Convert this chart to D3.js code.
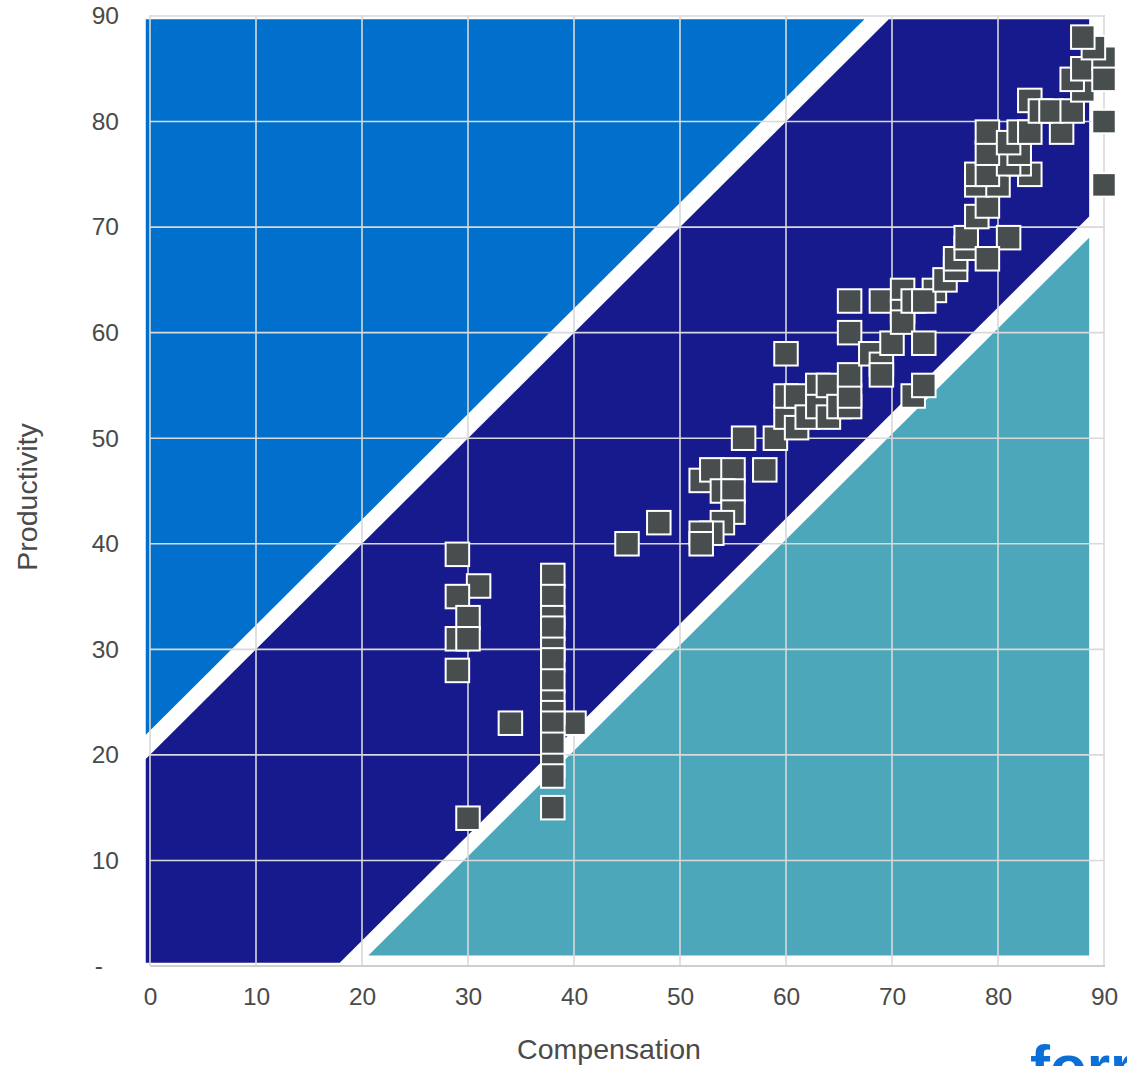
<!DOCTYPE html>
<html lang="en">
    <head>
        <meta charset="utf-8">
        <title>Productivity vs Compensation</title>
        <script src="https://d3js.org/d3.v7.min.js"></script>
        <style type="text/css">
        body {
            margin: 0;
            background: #ffffff;
        }
        .tick text {
            font-size: 24.5px;
            font-family: "Liberation Sans", Arial, sans-serif;
            fill: #4a4a4a;
        }
        .label {
            font-size: 28.5px;
            font-family: "Liberation Sans", Arial, sans-serif;
            fill: #4a4a4a;
        }
        .logo {
            font-size: 60px;
            font-weight: bold;
            font-family: "Liberation Sans", Arial, sans-serif;
            fill: #0a6fd6;
        }
        </style>
    </head>
    <body>
    <div id="vis"></div>

    <script type="text/javascript">

        // tick values
        const xTicks = [0, 10, 20, 30, 40, 50, 60, 70, 80, 90];
        const yTicks = [0, 10, 20, 30, 40, 50, 60, 70, 80, 90];

        // background bands (compensation, productivity)
        const bandAbove = [[-0.4, 89.7], [67.4, 89.7], [-0.4, 21.9]];
        const bandMiddle = [[-0.4, 19.6], [69.7, 89.7], [88.6, 89.7], [88.6, 71], [17.9, 0.3], [-0.4, 0.3]];
        const bandBelow = [[20.6, 1], [88.6, 1], [88.6, 69]];

        // companies: compensation score
        const compensation = [
            29, 31, 29, 30, 29, 30, 29, 30, 34, 40,
            38, 38, 38, 38, 38, 38, 38, 38, 38, 38, 38, 38, 38, 38,
            45, 48, 52, 53, 55, 58, 54, 55, 55, 54, 53, 52, 52, 56, 59,
            60, 60, 61, 61, 62, 63, 63, 64, 64, 65, 66, 66, 66, 60, 66, 66, 68, 69, 69, 69, 70,
            71, 71, 71, 72, 73, 74, 73, 72, 73, 75, 76, 76, 77, 77, 81, 79,
            78, 79, 78, 80, 78, 79, 83, 82, 81, 79, 82, 79, 81, 82, 83, 86, 83, 84, 85, 87,
            88, 87, 88, 90, 90, 89, 88, 90, 90
        ];
        // companies: productivity score
        const productivity = [
            39, 36, 35, 33, 31, 31, 28, 14, 23, 23,
            37, 35, 33, 32, 30, 29, 27, 25, 24, 23, 21, 19, 18, 15,
            40, 42, 46, 47, 47, 47, 45, 45, 43, 42, 41, 41, 40, 50, 50,
            52, 54, 54, 51, 52, 55, 53, 55, 52, 53, 53, 54, 56, 58, 60, 63, 58, 57, 56, 63, 59,
            64, 62, 61, 63, 59, 64, 63, 54, 55, 65, 66, 67, 68, 69, 69, 67,
            71, 72, 74, 74, 75, 75, 75, 76, 76, 77, 77, 79, 78, 79, 79, 79, 82, 81, 81, 81,
            83, 84, 85, 86, 84, 87, 88, 80, 74
        ];

        const width = 1127;
        const height = 1066;

        const xScale = d3.scaleLinear()
                         .domain([0, 90])
                         .range([150, 1104]);

        const yScale = d3.scaleLinear()
                         .domain([0, 90])
                         .range([966, 16]);

        const svg = d3.select("#vis")
                      .append("svg")
                      .attr("width", width)
                      .attr("height", height);

        //Bands
        const area = d3.line()
                       .x(d => xScale(d[0]))
                       .y(d => yScale(d[1]));

        svg.append("path").attr("d", area(bandAbove) + "Z").attr("fill", "#0070cc");
        svg.append("path").attr("d", area(bandMiddle) + "Z").attr("fill", "#171a8c");
        svg.append("path").attr("d", area(bandBelow) + "Z").attr("fill", "#4ba7b9");

        //Gridlines
        svg.append("g")
           .selectAll("line")
           .data(xTicks)
           .enter()
           .append("line")
           .attr("x1", d => xScale(d))
           .attr("x2", d => xScale(d))
           .attr("y1", yScale(90) - 1)
           .attr("y2", yScale(0))
           .attr("stroke", "#d9d9d9")
           .attr("stroke-width", 1.6);

        svg.append("g")
           .selectAll("line")
           .data(yTicks)
           .enter()
           .append("line")
           .attr("x1", xScale(0))
           .attr("x2", xScale(90) + 1)
           .attr("y1", d => yScale(d))
           .attr("y2", d => yScale(d))
           .attr("stroke", d => d === 0 ? "#cfcfcf" : "#d9d9d9")
           .attr("stroke-width", d => d === 0 ? 2.2 : 1.6);

        //Axes
        const bottomAxis = d3.axisBottom(xScale)
                             .tickValues(xTicks)
                             .tickSize(0)
                             .tickPadding(22);

        const leftAxis = d3.axisLeft(yScale)
                           .tickValues(yTicks)
                           .tickSize(0)
                           .tickPadding(31)
                           .tickFormat(d => d === 0 ? "-" : d);

        svg.append("g")
           .attr("transform", "translate(0," + yScale(0) + ")")
           .call(bottomAxis)
           .call(g => g.select(".domain").remove());

        const yAxisG = svg.append("g")
           .attr("transform", "translate(" + xScale(0) + ",0)")
           .call(leftAxis)
           .call(g => g.select(".domain").remove());

        // the dash for zero sits further left, like an accounting format
        yAxisG.selectAll(".tick text")
              .filter(d => d === 0)
              .attr("dx", -16);

        //Markers
        const points = compensation.map((c, i) => [c, productivity[i]]);
        const size = 23.5;

        svg.append("g")
           .selectAll("rect")
           .data(points)
           .enter()
           .append("rect")
           .attr("x", d => xScale(d[0]) - size / 2)
           .attr("y", d => yScale(d[1]) - size / 2)
           .attr("width", size)
           .attr("height", size)
           .attr("fill", "#484e4e")
           .attr("stroke", "#ffffff")
           .attr("stroke-width", 2);

        //Axis titles
        svg.append("text")
           .attr("x", 609)
           .attr("y", 1059)
           .attr("text-anchor", "middle")
           .attr("class", "label")
           .text("Compensation");

        svg.append("text")
           .attr("x", -497)
           .attr("y", 37)
           .attr("text-anchor", "middle")
           .attr("transform", "rotate(-90)")
           .attr("class", "label")
           .text("Productivity");

        //Logo, cut off by the bottom edge like in the source
        svg.append("text")
           .attr("x", 1030)
           .attr("y", 1087)
           .attr("class", "logo")
           .text("forrester");

    </script>
    </body>
</html>
